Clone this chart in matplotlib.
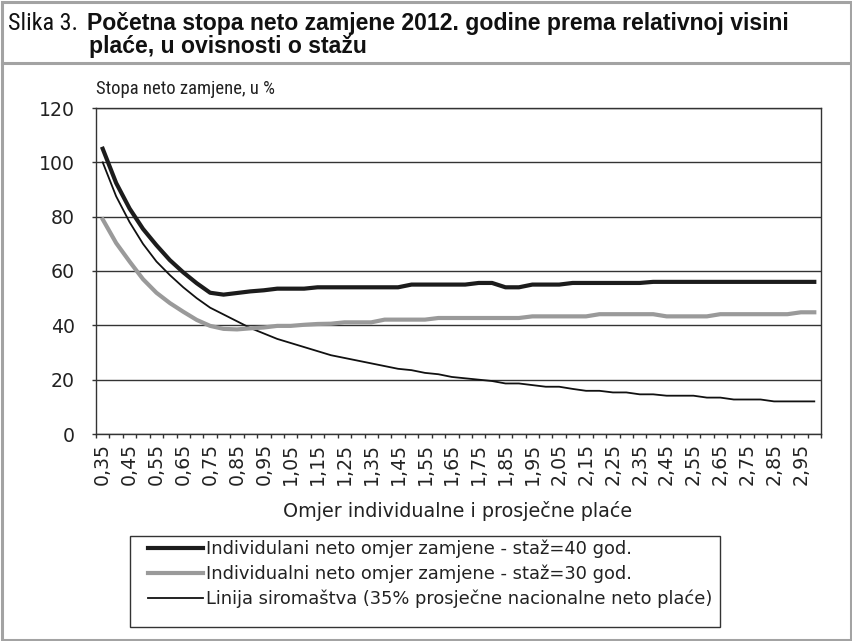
import numpy as np
import matplotlib
matplotlib.use('Agg')
import matplotlib.pyplot as plt
from matplotlib import font_manager
from matplotlib.patches import Rectangle
from matplotlib.lines import Line2D

# ---------------- data ----------------
ratio = np.round(np.arange(35, 301, 5) / 100, 2)          # 0.35 ... 3.00 (categories)

staz40 = [105, 92.4, 83, 75.5, 69.5, 64, 59.5, 55.5, 52, 51.3,
          51.9, 52.5, 52.9, 53.5, 53.5, 53.5, 54, 54, 54, 54,
          54, 54, 54, 55, 55, 55, 55, 55, 55.6, 55.6,
          54, 54, 55, 55, 55, 55.6, 55.6, 55.6, 55.6, 55.6,
          55.6, 56, 56, 56, 56, 56, 56, 56, 56, 56,
          56, 56, 56, 56]

staz30 = [79, 70.3, 63.5, 57, 52, 48.2, 45, 42, 39.8, 38.7,
          38.5, 38.9, 39.2, 39.8, 39.8, 40.2, 40.5, 40.6, 41.1, 41.1,
          41.1, 42.1, 42.1, 42.1, 42.1, 42.7, 42.7, 42.7, 42.7, 42.7,
          42.7, 42.7, 43.3, 43.3, 43.3, 43.3, 43.3, 44.1, 44.1, 44.1,
          44.1, 44.1, 43.3, 43.3, 43.3, 43.3, 44.1, 44.1, 44.1, 44.1,
          44.1, 44.1, 44.8, 44.8]

siromastvo = [100, 87.5, 78, 70, 63.5, 58.5, 54, 50, 46.5, 44,
              41.5, 39, 37, 35, 33.5, 32, 30.5, 29, 28, 27,
              26, 25, 24, 23.5, 22.5, 22, 21, 20.5, 20, 19.5,
              18.6, 18.6, 18, 17.4, 17.4, 16.6, 15.9, 15.9, 15.3, 15.3,
              14.6, 14.6, 14.1, 14.1, 14.1, 13.4, 13.4, 12.7, 12.7, 12.7,
              12, 12, 12, 12]

series_labels = ["Individulani neto omjer zamjene - staž=40 god.",
                 "Individualni neto omjer zamjene - staž=30 god.",
                 "Linija siromaštva (35% prosječne nacionalne neto plaće)"]

y_ticks = [0, 20, 40, 60, 80, 100, 120]
x_tick_idx = list(range(0, len(ratio), 2))
x_tick_labels = [f"{ratio[i]:.2f}".replace('.', ',') for i in x_tick_idx]

title_prefix = "Slika 3."
title_line1 = "Početna stopa neto zamjene 2012. godine prema relativnoj visini"
title_line2 = "plaće, u ovisnosti o stažu"
y_label = "Stopa neto zamjene, u %"
x_label = "Omjer individualne i prosječne plaće"

# ---------------- fonts ----------------
avail = {f.name for f in font_manager.fontManager.ttflist}
def pick(names):
    for n in names:
        if n in avail:
            return n
    return 'DejaVu Sans'
narrow = pick(['Liberation Sans Narrow', 'Liberation Sans', 'Roboto'])
cond = pick(['Roboto Condensed', 'Liberation Sans Narrow', 'Liberation Sans'])
regular = 'DejaVu Sans'

W, H = 852, 641
fig = plt.figure(figsize=(W / 100, H / 100), dpi=100)
renderer = fig.canvas.get_renderer()

def fx(px):
    return px / W
def fy(py):
    return 1 - py / H

def text_w(text, family, weight='normal', size=12.0):
    t = fig.text(0, 0, text, fontsize=size, family=family, weight=weight)
    w = t.get_window_extent(renderer=renderer).width
    t.remove()
    return w

def fit(text, target, family, weight='normal', base=12.0):
    return base * target / text_w(text, family, weight, base)

# ---------------- frame & title ----------------
border = '#a3a3a3'
fig.patches.append(Rectangle((fx(1.5), fy(639.5)), fx(849), (638) / H, transform=fig.transFigure,
                             fill=False, edgecolor=border, lw=2.2))
fig.lines.append(Line2D([fx(1.5), fx(850.5)], [fy(63), fy(63)], transform=fig.transFigure,
                        color=border, lw=2.2))

title_fs = fit(title_line1, 700, narrow, 'bold')
pre_fs = title_fs * 1.05
pre_w = text_w(title_prefix, cond, 'normal', pre_fs)
bold_x = max(80, 8 + pre_w + 9)
fig.text(fx(8), fy(30), title_prefix, fontsize=pre_fs, family=cond, va='baseline', ha='left',
         color='#111111')
fig.text(fx(bold_x), fy(30), title_line1, fontsize=title_fs, family=narrow, weight='bold',
         va='baseline', ha='left', color='#111111')
fig.text(fx(bold_x + 2), fy(53), title_line2, fontsize=title_fs, family=narrow, weight='bold',
         va='baseline', ha='left', color='#111111')

ylab_fs = fit(y_label, 178, cond)
fig.text(fx(96), fy(94), y_label, fontsize=ylab_fs, family=cond, va='baseline', ha='left',
         color='#222222')

# ---------------- axes ----------------
ax = fig.add_axes([fx(96), fy(434), (821 - 96) / W, (434 - 108) / H])
x = np.arange(len(ratio))
ax.plot(x, siromastvo, color='#111111', lw=1.3, solid_joinstyle='round', zorder=3)
ax.plot(x, staz30, color='#9a9a9a', lw=3.0, solid_joinstyle='round', zorder=4)
ax.plot(x, staz40, color='#1c1c1c', lw=3.0, solid_joinstyle='round', zorder=5)

ax.set_xlim(-0.5, len(ratio) - 0.5)
ax.set_ylim(0, 120)
ax.set_yticks(y_ticks)
ax.yaxis.grid(True, color='#333333', lw=1.0)
ax.set_axisbelow(True)
for s in ax.spines.values():
    s.set_color('#333333')
    s.set_linewidth(1.0)

tick_fs = fit("0,35", 42, regular)
ax.set_xticks(x_tick_idx)
ax.set_xticklabels(x_tick_labels, rotation=90, fontsize=tick_fs, family=regular, color='#222222')
ax.set_xticks(np.arange(-0.5, len(ratio), 1.0), minor=True)
ax.tick_params(axis='x', which='major', length=0, pad=9 * 0.72)
ax.tick_params(axis='x', which='minor', length=4 * 0.72, width=1, direction='out', color='#333333')
ax.tick_params(axis='y', which='major', length=4 * 0.72, width=1, direction='out', color='#333333',
               pad=17 * 0.72, labelsize=tick_fs)
for lab in ax.get_yticklabels():
    lab.set_family(regular)
    lab.set_color('#222222')

xlab_fs = fit(x_label, 347, regular)
fig.text(fx(458), fy(517), x_label, fontsize=xlab_fs, family=regular, ha='center', va='baseline',
         color='#222222')

# ---------------- legend ----------------
leg_fs = fit(series_labels[2], 505, regular)
fs_px = leg_fs * 100 / 72
handles = [Line2D([], [], color='#1c1c1c', lw=3.0),
           Line2D([], [], color='#9a9a9a', lw=3.0),
           Line2D([], [], color='#111111', lw=1.3)]
fig.patches.append(Rectangle((fx(130), fy(627)), (720 - 130) / W, (627 - 536) / H,
                             transform=fig.transFigure, fill=False, edgecolor='#333333', lw=1.0))
leg = fig.legend(handles, series_labels, loc='upper left',
                 bbox_to_anchor=(fx(148), fy(551 - 0.62 * fs_px)), bbox_transform=fig.transFigure,
                 frameon=False, borderpad=0, borderaxespad=0,
                 handlelength=55 / fs_px, handletextpad=3 / fs_px,
                 labelspacing=(27.5 - 1.17 * fs_px) / fs_px, prop={'family': regular, 'size': leg_fs})
for t in leg.get_texts():
    t.set_color('#222222')

fig.savefig('out.png', dpi=100)
